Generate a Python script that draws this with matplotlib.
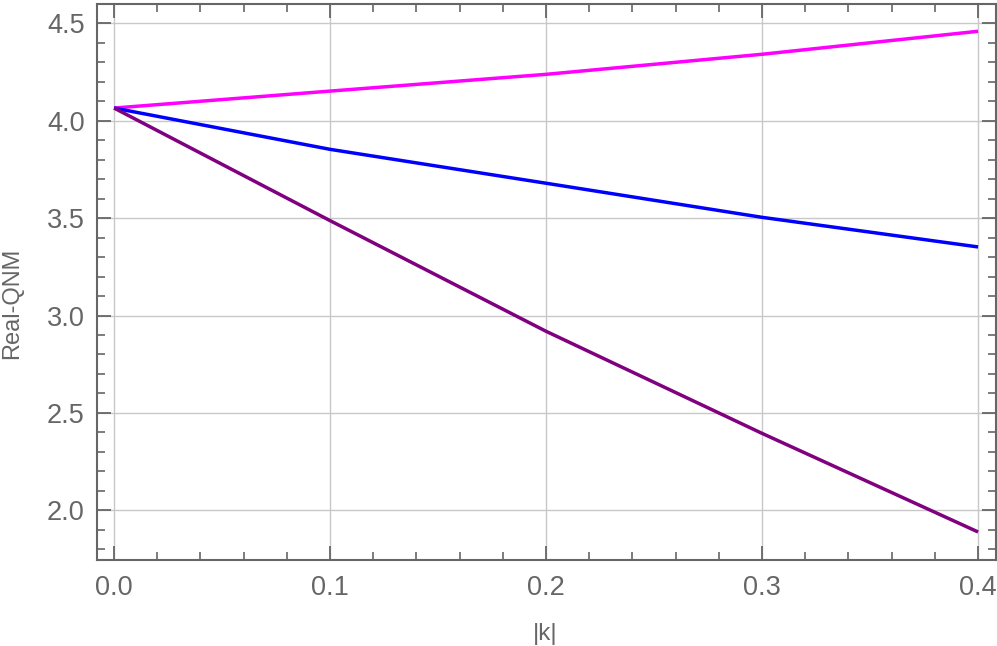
import matplotlib
matplotlib.use("Agg")
import matplotlib.pyplot as plt
from matplotlib.ticker import MultipleLocator

k_vals = [0.0, 0.1, 0.2, 0.3, 0.4]
pink_vals = [4.065, 4.152, 4.238, 4.341, 4.459]
blue_vals = [4.065, 3.853, 3.679, 3.504, 3.352]
purple_vals = [4.065, 3.487, 2.919, 2.395, 1.889]

x_ticks = [0.0, 0.1, 0.2, 0.3, 0.4]
y_ticks = [2.0, 2.5, 3.0, 3.5, 4.0, 4.5]

plt.rcParams['font.family'] = ['Liberation Sans', 'DejaVu Sans']

fig = plt.figure(figsize=(9.97, 6.46), dpi=100)
ax = fig.add_axes([0.0973, 0.1331, 0.9017, 0.8607])

ax.plot(k_vals, pink_vals, color='#FF00FF', lw=2.5, solid_capstyle='butt')
ax.plot(k_vals, blue_vals, color='#0000FF', lw=2.5, solid_capstyle='butt')
ax.plot(k_vals, purple_vals, color='#800080', lw=2.5, solid_capstyle='butt')

ax.set_xlim(-0.0079, 0.4083)
ax.set_ylim(1.745, 4.599)
ax.set_xticks(x_ticks)
ax.set_yticks(y_ticks)
ax.set_xticklabels([f"{v:.1f}" for v in x_ticks])
ax.set_yticklabels([f"{v:.1f}" for v in y_ticks])
ax.xaxis.set_minor_locator(MultipleLocator(0.02))
ax.yaxis.set_minor_locator(MultipleLocator(0.1))

ax.grid(True, which='major', color='#c8c8c8', lw=1.0)
ax.set_axisbelow(True)

for s in ax.spines.values():
    s.set_color('#666666')
    s.set_linewidth(1.5)

ax.tick_params(which='both', direction='in', top=True, right=True, color='#666666',
               labelcolor='#666666', labelsize=19.5)
ax.tick_params(which='major', length=10, width=1.3)
ax.tick_params(which='minor', length=6, width=1.2)
ax.tick_params(axis='x', pad=11)
ax.tick_params(axis='y', pad=9)

ax.set_xlabel('|k|', color='#666666', fontsize=17.5, va='center')
ax.set_ylabel('Real-QNM', color='#666666', fontsize=17, va='center')
ax.xaxis.set_label_coords(0.498, -0.133)
ax.yaxis.set_label_coords(-0.094, 0.462)

fig.savefig('out.png', dpi=100)
